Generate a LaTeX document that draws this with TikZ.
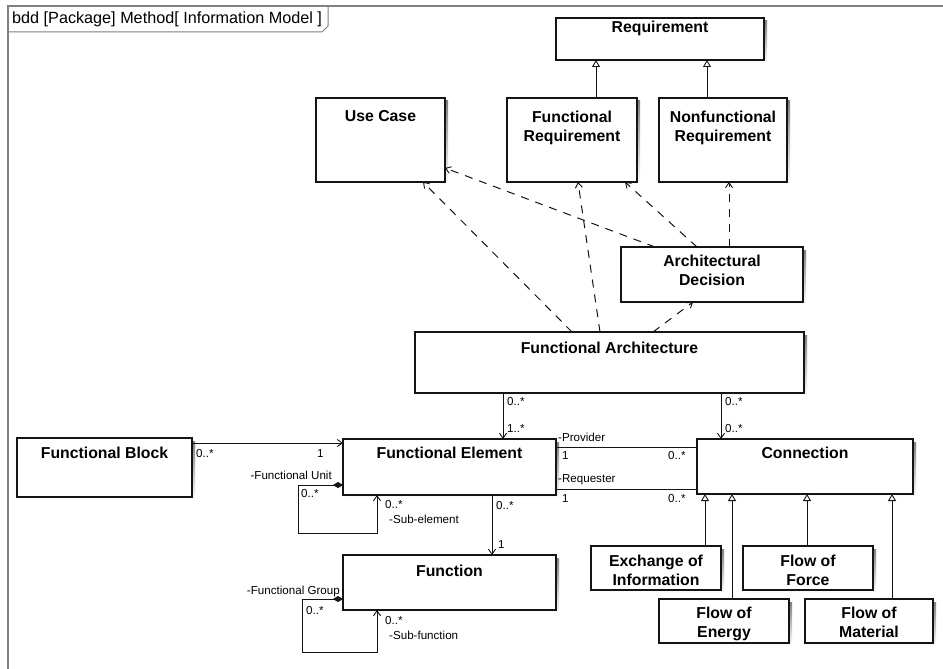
\documentclass[tikz,border=0pt]{standalone}
\usepackage{fontspec}
\setmainfont{Liberation Sans}
\usetikzlibrary{arrows.meta}
\definecolor{ink}{HTML}{141414}
\definecolor{shade}{HTML}{A8A8A8}
\definecolor{framegray}{HTML}{808080}
\tikzset{
  blockbox/.style={draw=ink, line width=1.3pt, fill=white, inner sep=0pt, outer sep=0pt},
  blocktitle/.style={font=\fontsize{15.8}{19}\selectfont\bfseries, align=center, inner xsep=2pt, inner ysep=0pt},
  lbl/.style={font=\fontsize{11.6}{13}\selectfont, inner sep=1pt},
  assoc/.style={draw=ink, line width=1pt},
  navig/.style={assoc, -{Straight Barb[length=5pt,width=7pt,line width=0.9pt]}},
  depend/.style={draw=ink, line width=1pt, dash pattern=on 8pt off 7pt, -{Straight Barb[length=5pt,width=7pt,line width=0.9pt]}},
  general/.style={assoc, -{Triangle[open,length=7pt,width=8pt,line width=0.9pt]}},
  composite/.style={assoc, {Diamond[length=10pt,width=6pt]}-{Straight Barb[length=5pt,width=7pt,line width=0.9pt]}},
}
% \umlbox[title gap]{name}{left}{top}{right}{bottom}{title}
\newcommand\umlbox[7][8]{%
  \fill[shade] (#3+3,#4+3) rectangle (#5+3,#6+3);
  \node[blockbox, anchor=north west, minimum width=#5-#3, minimum height=#6-#4] (#2) at (#3,#4) {};
  \node[blocktitle, anchor=north] (#2-t) at ([yshift=-#1pt]#2.north) {#7};
}
\begin{document}
\begin{tikzpicture}[x=1pt,y=-1pt]
\useasboundingbox[fill=white] (0,0) rectangle (943,669);

% diagram frame and its name tab
\draw[framegray, line width=1.2pt] (943,6) -- (8,6) -- (8,669);
\draw[framegray, line width=1pt] (8,32) -- (322,32) -- (328,26) -- (328,6);
\node[font=\fontsize{16.2}{17}\selectfont, anchor=west, inner sep=0pt] (frame-name) at (12,19) {bdd [Package] Method[ Information Model ]};

% blocks
\umlbox[3]{req}{556}{18}{764}{60}{Requirement}
\umlbox[12.5]{usecase}{316}{98}{445}{182}{Use Case}
\umlbox[12.5]{freq}{507}{98}{637}{182}{Functional\\Requirement}
\umlbox[12.5]{nfreq}{659}{98}{787}{182}{Nonfunctional\\Requirement}
\umlbox[7.5]{archdec}{621}{247}{803}{302}{Architectural\\Decision}
\umlbox[9.5]{farch}{415}{332}{804}{393}{Functional Architecture}
\umlbox[8.5]{fblock}{17}{438}{192}{497}{Functional Block}
\umlbox[7.5]{felem}{343}{439}{556}{495}{Functional Element}
\umlbox[7.5]{conn}{697}{439}{913}{494}{Connection}
\umlbox[9.5]{func}{343}{555}{556}{610}{Function}
\umlbox[8.5]{exinfo}{591}{546}{721}{590}{Exchange of\\Information}
\umlbox[8.5]{fforce}{743}{546}{873}{590}{Flow of\\Force}
\umlbox[7.5]{fenergy}{659}{599}{789}{643}{Flow of\\Energy}
\umlbox[7.5]{fmat}{805}{599}{933}{643}{Flow of\\Material}

% requirement specialisations
\draw[general] (freq.north -| 596,0) -- (req.south -| 596,0);
\draw[general] (nfreq.north -| 707,0) -- (req.south -| 707,0);

% dependencies
\draw[depend] (farch.north -| 572,0) -- (usecase.south -| 423,0);
\draw[depend] (farch.north -| 600,0) -- (freq.south -| 578,0);
\draw[depend] (farch.north -| 653,0) -- (archdec.south -| 693,0);
\draw[depend] (archdec.north -| 655,0) -- (usecase.east |- 0,168);
\draw[depend] (archdec.north -| 697,0) -- (freq.south -| 625,0);
\draw[depend] (archdec.north -| 729,0) -- (nfreq.south -| 729,0);

% architecture to elements and connections
\draw[navig] (farch.south -| 503,0) -- (felem.north -| 503,0);
\node[lbl, anchor=west] (l-fa1) at (506,402) {0..*};
\node[lbl, anchor=west] (l-fe1) at (506,429) {1..*};
\draw[navig] (farch.south -| 721,0) -- (conn.north -| 721,0);
\node[lbl, anchor=west] (l-fa2) at (724,402) {0..*};
\node[lbl, anchor=west] (l-cn1) at (724,429) {0..*};

% block to element
\draw[navig] (fblock.east |- 0,443) -- (felem.west |- 0,443);
\node[lbl, anchor=west] (l-fb) at (195,454) {0..*};
\node[lbl, anchor=west] (l-fe2) at (316,454) {1};

% provider / requester
\draw[assoc] (felem.east |- 0,447) -- (conn.west |- 0,447);
\node[lbl, anchor=west] (l-prov) at (557,437) {-Provider};
\node[lbl, anchor=west] (l-prov1) at (561,456) {1};
\node[lbl, anchor=west] (l-prov2) at (667,456) {0..*};
\draw[assoc] (felem.east |- 0,489) -- (conn.west |- 0,489);
\node[lbl, anchor=west] (l-req) at (557,480) {-Requester};
\node[lbl, anchor=west] (l-req1) at (561,499) {1};
\node[lbl, anchor=west] (l-req2) at (667,499) {0..*};

% element to function
\draw[navig] (felem.south -| 492,0) -- (func.north -| 492,0);
\node[lbl, anchor=west] (l-fe3) at (495,506) {0..*};
\node[lbl, anchor=west] (l-fn1) at (497,545) {1};

% element composition loop
\coordinate (fe-l1) at (298,485);
\coordinate (fe-l2) at (298,533);
\coordinate (fe-l3) at (377,533);
\draw[composite] (felem.west |- fe-l1) -- (fe-l1) -- (fe-l2) -- (fe-l3) -- (felem.south -| fe-l3);
\node[lbl, anchor=east] (l-unit) at (333,475) {-Functional Unit};
\node[lbl, anchor=west] (l-unit1) at (300,494) {0..*};
\node[lbl, anchor=west] (l-sub1) at (384,505) {0..*};
\node[lbl, anchor=west] (l-sub2) at (388,519) {-Sub-element};

% function composition loop
\coordinate (fn-l1) at (302,599);
\coordinate (fn-l2) at (302,652);
\coordinate (fn-l3) at (377,652);
\draw[composite] (func.west |- fn-l1) -- (fn-l1) -- (fn-l2) -- (fn-l3) -- (func.south -| fn-l3);
\node[lbl, anchor=east] (l-grp) at (341,591) {-Functional Group};
\node[lbl, anchor=west] (l-grp1) at (305,611) {0..*};
\node[lbl, anchor=west] (l-subf1) at (384,621) {0..*};
\node[lbl, anchor=west] (l-subf2) at (388,635) {-Sub-function};

% connection specialisations
\draw[general] (exinfo.north -| 705,0) -- (conn.south -| 705,0);
\draw[general] (fenergy.north -| 732,0) -- (conn.south -| 732,0);
\draw[general] (fforce.north -| 807,0) -- (conn.south -| 807,0);
\draw[general] (fmat.north -| 892,0) -- (conn.south -| 892,0);
\end{tikzpicture}
\end{document}
